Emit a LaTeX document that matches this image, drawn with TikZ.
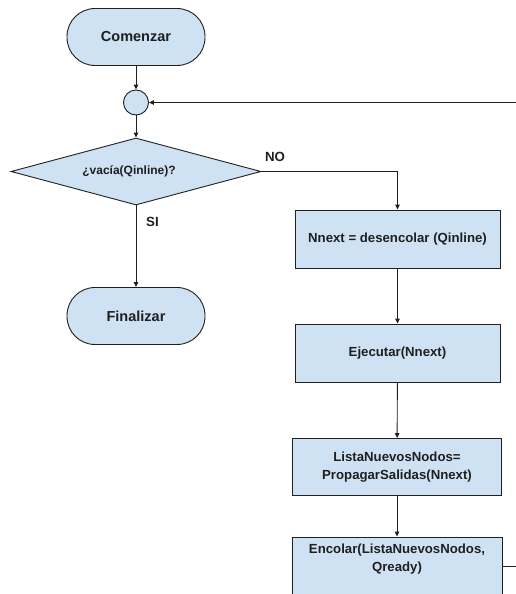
\documentclass[tikz,border=0pt]{standalone}
\usepackage{fontspec}
\setmainfont{Liberation Sans}
\usetikzlibrary{shapes.geometric,arrows.meta}
\definecolor{boxfill}{HTML}{CFE2F3}
\definecolor{ink}{HTML}{1F1F1F}
\begin{document}
\begin{tikzpicture}[x=1pt,y=-1pt,
  shapebase/.style={draw=ink, line width=0.9pt, fill=boxfill, text=ink,
    font=\bfseries\fontsize{13.2}{18}\selectfont, inner sep=0pt, align=center},
  terminal/.style={shapebase, rectangle, rounded corners=28pt,
    minimum width=138pt, minimum height=57pt,
    font=\bfseries\fontsize{14.5}{17}\selectfont},
  process/.style={shapebase, rectangle, minimum width=205pt, minimum height=58pt},
  decision/.style={shapebase, diamond, shape aspect=3.7,
    minimum width=250pt, minimum height=67pt,
    font=\bfseries\fontsize{12}{14}\selectfont},
  junction/.style={shapebase, circle, minimum size=25pt},
  flow/.style={draw=ink, line width=0.9pt, -{Triangle[length=5pt,width=4.5pt]}},
  plainline/.style={draw=ink, line width=0.9pt},
  tag/.style={text=ink, font=\bfseries\fontsize{13.3}{16}\selectfont, inner sep=0pt},
  boxtext/.style={text=ink, font=\bfseries\fontsize{13.2}{18}\selectfont,
    inner sep=0pt, align=center}
]
\useasboundingbox (0,0) rectangle (516,594);
\clip (0,0) rectangle (516,594);

% left column: start, junction, test, end
\node[terminal] (start) at (136,37) {Comenzar};
\node[junction] (junc) at (136,102.5) {};
\node[decision] (cond) at (136,171.5) {¿vacía(Qinline)?\hspace*{14pt}};
\node[terminal] (fin) at (136,316) {Finalizar};

% right column: loop body
\node[process] (b1) at (397.5,239) {Nnext = desencolar (Qinline)};
\node[process] (b2) at (397.5,353) {Ejecutar(Nnext)};
\node[process, minimum width=209pt, minimum height=57pt] (b3) at (397,467)
  {ListaNuevosNodos=\\PropagarSalidas(Nnext)};
\node[process, minimum width=210pt] (b4) at (397,566) {};
\node[boxtext] (b4t) at (397,559) {Encolar(ListaNuevosNodos,\\Qready)};

% loop ends leaving the page
\coordinate (loopin) at (516,102.5);
\coordinate (loopout) at (516,566);

% connectors
\draw[flow] (start) -- (junc);
\draw[flow] (junc) -- (cond);
\draw[flow] (cond.east) -| (b1.north);
\draw[flow] (cond) -- (fin);
\draw[flow] (b1) -- (b2);
\draw[flow] (b2) -- (b3);
\draw[flow] (b3) -- (b4);
\draw[flow] (loopin) -- (junc);
\draw[plainline] (b4.east) -- (loopout);

% branch labels
\node[tag] (nolbl) at (275,157) {NO};
\node[tag] (silbl) at (152.5,222) {SI};
\end{tikzpicture}
\end{document}
